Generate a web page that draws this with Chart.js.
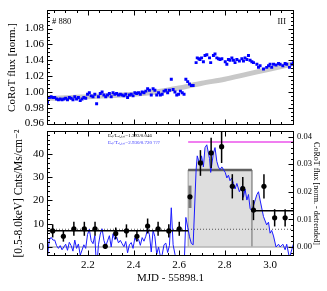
<!DOCTYPE html>
<html>
<head>
<meta charset="utf-8">
<script src="https://cdn.jsdelivr.net/npm/chart.js@4.4.0/dist/chart.umd.min.js"></script>
<style>
  body { margin: 0; background: #fff; }
  #wrap { position: relative; width: 327px; height: 291px; }
  canvas { position: absolute; left: 0; top: 0; }
</style>
</head>
<body>
<div id="wrap">
  <canvas id="bot" width="327" height="291"></canvas>
  <canvas id="top" width="327" height="135"></canvas>
</div>
<script>
// axis ranges / ticks
var xMin = 2.02, xMax = 3.105;
var xTicks = [2.2, 2.4, 2.6, 2.8, 3.0];
var fluxTicks = [0.96, 0.98, 1.00, 1.02, 1.04, 1.06, 1.08];
var rateTicks = [0, 10, 20, 30, 40];
var detrTicks = [0.00, 0.01, 0.02, 0.03, 0.04];

// CoRoT light curve (MJD - 55898.1)
var corotT = [
  2.022, 2.030, 2.038, 2.046, 2.054, 2.062, 2.070, 2.078, 2.086, 2.094,
  2.102, 2.110, 2.118, 2.126, 2.134, 2.142, 2.150, 2.158, 2.166, 2.174,
  2.182, 2.190, 2.198, 2.206, 2.214, 2.222, 2.230, 2.238, 2.246, 2.254,
  2.262, 2.270, 2.278, 2.286, 2.294, 2.302, 2.310, 2.318, 2.326, 2.334,
  2.342, 2.350, 2.358, 2.366, 2.374, 2.382, 2.390, 2.398, 2.406, 2.414,
  2.422, 2.430, 2.438, 2.446, 2.454, 2.462, 2.470, 2.478, 2.486, 2.494,
  2.502, 2.510, 2.518, 2.526, 2.534, 2.542, 2.550, 2.558, 2.566, 2.574,
  2.582, 2.590, 2.598, 2.606, 2.614, 2.622, 2.630, 2.638, 2.646, 2.654,
  2.662,
  2.675, 2.680, 2.687, 2.692, 2.699, 2.707, 2.714, 2.722, 2.734, 2.739,
  2.751, 2.758, 2.766, 2.773, 2.780, 2.788, 2.803, 2.810, 2.817, 2.824,
  2.832, 2.839, 2.846, 2.854, 2.865, 2.876, 2.883, 2.890, 2.898, 2.905,
  2.912, 2.920, 2.927, 2.942, 2.949, 2.956, 2.971, 2.985, 2.993, 3.000,
  3.007, 3.015, 3.026, 3.037, 3.044, 3.056, 3.066, 3.073, 3.085, 3.095,
  3.102
];
var corotFlux = [
  0.987, 0.993, 0.994, 0.993, 0.993, 0.991, 0.990, 0.991, 0.990, 0.991,
  0.992, 0.990, 0.993, 0.992, 0.990, 0.994, 0.991, 0.993, 0.989, 0.991,
  0.993, 0.992, 0.997, 0.999, 0.995, 0.994, 0.997, 0.985, 0.994, 0.998,
  1.000, 0.996, 0.994, 0.996, 0.998, 0.994, 0.999, 0.997, 0.998, 0.996,
  0.997, 0.996, 0.995, 0.997, 0.993, 0.996, 0.997, 0.995, 0.999, 0.998,
  0.999, 0.997, 1.000, 0.999, 1.001, 1.004, 1.002, 0.996, 1.004, 1.002,
  0.996, 0.999, 0.996, 0.997, 1.001, 1.002, 0.999, 1.002, 1.016, 1.003,
  1.000, 0.996, 0.997, 1.001, 0.999, 0.997, 1.016, 1.013, 1.010, 1.008,
  1.008,
  1.037, 1.043, 1.042, 1.041, 1.043, 1.038, 1.046, 1.047, 1.043, 1.037,
  1.046, 1.048, 1.043, 1.042, 1.041, 1.042, 1.038, 1.035, 1.041, 1.040,
  1.043, 1.040, 1.037, 1.041, 1.039, 1.042, 1.039, 1.043, 1.041, 1.046,
  1.040, 1.038, 1.037, 1.035, 1.031, 1.033, 1.029, 1.031, 1.033, 1.035,
  1.031, 1.035, 1.034, 1.036, 1.035, 1.033, 1.036, 1.035, 1.031, 1.035,
  1.037
];
var corotDetr = [
  -0.0035, 0.0025, 0.0035, 0.0025, 0.0025, 0.0005, -0.0005, 0.0005, -0.0010, 0.0000,
  0.0010, -0.0012, 0.0017, 0.0005, -0.0015, 0.0025, -0.0005, 0.0011, -0.0030, -0.0011,
  0.0008, -0.0005, 0.0045, 0.0064, 0.0023, 0.0012, 0.0041, -0.0081, 0.0008, 0.0047,
  0.0066, 0.0024, 0.0003, 0.0022, 0.0041, 0.0000, 0.0048, 0.0027, 0.0036, 0.0015,
  0.0024, 0.0012, 0.0001, 0.0020, -0.0021, 0.0008, 0.0016, -0.0005, 0.0033, 0.0021,
  0.0028, 0.0006, 0.0034, 0.0021, 0.0039, 0.0066, 0.0044, -0.0018, 0.0060, 0.0037,
  -0.0026, 0.0000, -0.0034, -0.0028, 0.0008, 0.0014, -0.0020, 0.0006, 0.0142, 0.0008,
  -0.0026, -0.0070, -0.0064, -0.0029, -0.0053, -0.0078, 0.0107, 0.0072, 0.0037, 0.0013,
  0.0008,
  0.028, 0.033, 0.031, 0.030, 0.033, 0.029, 0.036, 0.037, 0.032, 0.027,
  0.034, 0.036, 0.031, 0.029, 0.028, 0.029, 0.027, 0.025, 0.026, 0.024,
  0.025, 0.023, 0.021, 0.023, 0.020, 0.022, 0.018, 0.021, 0.017, 0.019,
  0.014, 0.013, 0.015, 0.019, 0.020, 0.017, 0.011, 0.008, 0.009, 0.005,
  0.006, 0.004, 0.000, 0.001, 0.000, 0.001, -0.001, 0.001, -0.004, -0.001,
  0.001
];
// smooth trend (grey)
var trendT = [2.02, 2.10, 2.20, 2.30, 2.40, 2.50, 2.60, 2.70, 2.80, 2.90, 3.00, 3.095];
var trendF = [0.992, 0.9925, 0.994, 0.9955, 0.997, 1.000, 1.005, 1.011, 1.016, 1.0225, 1.029, 1.035];

// X-ray light curve
var xrT = [2.045, 2.092, 2.138, 2.184, 2.231, 2.276, 2.322, 2.369, 2.415, 2.462, 2.508, 2.555,
           2.601, 2.648, 2.694, 2.741, 2.787, 2.834, 2.880, 2.927, 2.973, 3.020, 3.066];
var xrRate = [6.9, 4.6, 7.8, 7.8, 7.8, 0.3, 5.8, 6.9, 4.6, 9.0, 7.8, 6.9,
              7.8, 21.5, 36.0, 40.3, 43.0, 26.0, 25.0, 15.8, 26.0, 12.5, 12.5];
var xrErr = [2.8, 2.3, 3.0, 3.0, 3.0, 1.0, 2.5, 2.8, 2.3, 3.2, 3.0, 2.8,
             3.0, 4.8, 5.5, 6.5, 7.0, 5.2, 5.0, 4.3, 5.2, 3.7, 3.7];
var greyBin = 13;

// blocks
var blockT = [2.02, 2.64, 2.92, 3.105];
var blockRate = [7.0, 33.0, 15.5];
var quietRate = 7.6;
var peakDetr = 0.038;
var flareEnd = 3.026;

Chart.defaults.font.family = "'Liberation Serif', 'DejaVu Serif', serif";
Chart.defaults.color = '#000';

function pts(xs, ys) {
  return xs.map(function (x, i) { return { x: x, y: ys[i] }; });
}
function seg(x0, x1, y) { return [{ x: x0, y: y }, { x: x1, y: y }]; }

function frameTicks(cfg) {
  return {
    id: 'frameTicks',
    afterDatasetsDraw: function (chart) {
      var c = chart.ctx, a = chart.chartArea;
      var L = Math.round(a.left) + 0.5, R = Math.round(a.right) - 0.5;
      var T = Math.round(a.top) + 0.5, B = Math.round(a.bottom) - 0.5;
      c.save();
      c.strokeStyle = '#000';
      c.lineWidth = 1;
      c.strokeRect(L, T, R - L, B - T);
      function marks(scale, major, step, draw) {
        var k0 = Math.ceil(scale.min / step - 1e-9), k1 = Math.floor(scale.max / step + 1e-9);
        for (var k = k0; k <= k1; k++) {
          var v = k * step;
          var isMajor = major.some(function (m) { return Math.abs(m - v) < step / 10; });
          draw(Math.round(scale.getPixelForValue(v)) + 0.5, isMajor ? 5 : 2.5);
        }
      }
      c.beginPath();
      marks(chart.scales.x, cfg.x.major, cfg.x.step, function (p, len) {
        c.moveTo(p, B); c.lineTo(p, B - len);
        c.moveTo(p, T); c.lineTo(p, T + len);
      });
      marks(chart.scales[cfg.left.id], cfg.left.major, cfg.left.step, function (p, len) {
        c.moveTo(L, p); c.lineTo(L + len, p);
      });
      marks(chart.scales[cfg.right.id], cfg.right.major, cfg.right.step, function (p, len) {
        c.moveTo(R, p); c.lineTo(R - len, p);
      });
      c.stroke();
      c.restore();
    }
  };
}

function noteText(c, text, x, y, font, color, align) {
  c.save();
  c.font = font;
  c.fillStyle = color;
  c.textAlign = align;
  c.textBaseline = 'middle';
  c.fillText(text, x, y);
  c.restore();
}

// ---------- top panel ----------
new Chart(document.getElementById('top'), {
  type: 'line',
  data: {
    datasets: [
      {
        data: pts(corotT, corotFlux), showLine: false,
        pointStyle: 'rect', pointRadius: 2.1, pointBorderWidth: 0,
        pointBackgroundColor: '#0000ff', order: 0
      },
      {
        data: pts(trendT, trendF), borderColor: '#c8c8c8', borderWidth: 5,
        pointRadius: 0, cubicInterpolationMode: 'monotone', fill: false, order: 1
      }
    ]
  },
  options: {
    responsive: false, animation: false, devicePixelRatio: 1,
    layout: { padding: { left: 0, right: 33, top: 3, bottom: 4 } },
    scales: {
      x: { type: 'linear', display: false, min: xMin, max: xMax },
      y: {
        min: 0.9577, max: 1.104,
        afterFit: function (s) { s.width = 47; },
        afterBuildTicks: function (s) { s.ticks = fluxTicks.map(function (v) { return { value: v }; }); },
        ticks: { padding: 3, font: { size: 11 }, color: '#000', callback: function (v) { return v.toFixed(2); } },
        grid: { display: false, drawTicks: false },
        border: { display: false },
        title: { display: true, text: 'CoRoT flux [norm.]', font: { size: 11 }, color: '#000', padding: { top: 6, bottom: 0 } }
      }
    },
    plugins: { legend: { display: false }, tooltip: { enabled: false } }
  },
  plugins: [
    frameTicks({
      x: { major: xTicks, step: 0.05 },
      left: { id: 'y', major: fluxTicks, step: 0.005 },
      right: { id: 'y', major: fluxTicks, step: 0.005 }
    }),
    {
      id: 'notesTop',
      afterDraw: function (chart) {
        var a = chart.chartArea;
        noteText(chart.ctx, '# 880', a.left + 5, a.top + 12, "8.5px 'Liberation Serif'", '#000', 'left');
        noteText(chart.ctx, 'III', a.right - 8, a.top + 12, "8.5px 'Liberation Serif'", '#000', 'right');
      }
    }
  ]
});

// ---------- bottom panel ----------
var fillT = [], fillD = [];
corotT.forEach(function (t, i) {
  if (t >= blockT[1] && t <= flareEnd) { fillT.push(t); fillD.push(corotDetr[i]); }
});

var errBars = {
  id: 'errBars',
  beforeDatasetDraw: function (chart, args) {
    if (args.index !== 10) return;
    var c = chart.ctx, a = chart.chartArea, xs = chart.scales.x, ys = chart.scales.y;
    c.save();
    c.beginPath();
    c.rect(a.left, a.top, a.right - a.left, a.bottom - a.top);
    c.clip();
    for (var i = 0; i < xrT.length; i++) {
      var px = xs.getPixelForValue(xrT[i]);
      c.strokeStyle = i === greyBin ? '#7a7a7a' : '#000';
      c.lineWidth = i === greyBin ? 3 : 1.5;
      c.beginPath();
      c.moveTo(px, ys.getPixelForValue(xrRate[i] - xrErr[i]));
      c.lineTo(px, ys.getPixelForValue(xrRate[i] + xrErr[i]));
      c.stroke();
    }
    c.restore();
  }
};

new Chart(document.getElementById('bot'), {
  type: 'line',
  data: {
    datasets: [
      { // 0 grey area under flare curve
        data: pts(fillT, fillD), yAxisID: 'yR', fill: 'origin',
        backgroundColor: '#dedede', borderColor: 'rgba(0,0,0,0)', borderWidth: 0,
        pointRadius: 0, order: 10
      },
      { // 1 block box
        data: [{ x: blockT[1], y: 0 }, { x: blockT[1], y: blockRate[1] },
               { x: blockT[2], y: blockRate[1] }, { x: blockT[2], y: 0 }],
        yAxisID: 'y', fill: 'origin', backgroundColor: '#dedede',
        borderColor: '#9a9a9a', borderWidth: 1, pointRadius: 0, order: 9
      },
      { // 2 zero line
        data: seg(xMin, xMax, 0), yAxisID: 'y', borderColor: '#b4b4b4',
        borderWidth: 1.5, pointRadius: 0, fill: false, order: 8
      },
      { // 3 quiescent level
        data: seg(xMin, xMax, quietRate), yAxisID: 'y', borderColor: '#555',
        borderWidth: 1, borderDash: [1, 2], pointRadius: 0, fill: false, order: 7
      },
      { // 4 box top
        data: seg(blockT[1], blockT[2], blockRate[1]), yAxisID: 'y',
        borderColor: '#606060', borderWidth: 2.5, pointRadius: 0, fill: false, order: 6
      },
      { // 5 detrended CoRoT
        data: pts(corotT, corotDetr), yAxisID: 'yR', borderColor: '#1a1aff',
        borderWidth: 1, pointRadius: 0, fill: false, order: 5
      },
      { // 6 peak optical level
        data: seg(blockT[1], xMax, peakDetr), yAxisID: 'yR', borderColor: '#f07ef0',
        borderWidth: 2, pointRadius: 0, fill: false, order: 4
      },
      { // 7 block before
        data: seg(blockT[0], blockT[1], blockRate[0]), yAxisID: 'y', borderColor: '#000',
        borderWidth: 1.5, pointRadius: 0, fill: false, order: 3
      },
      { // 8 block after
        data: seg(blockT[2], blockT[3], blockRate[2]), yAxisID: 'y', borderColor: '#000',
        borderWidth: 1.5, pointRadius: 0, fill: false, order: 3
      },
      { // 9 spacer (keeps indices)
        data: [], yAxisID: 'y', order: 2
      },
      { // 10 X-ray rates
        data: pts(xrT, xrRate), yAxisID: 'y', showLine: false,
        pointRadius: 2.6, pointBackgroundColor: '#000', pointBorderWidth: 0, order: 0
      }
    ]
  },
  options: {
    responsive: false, animation: false, devicePixelRatio: 1,
    layout: { padding: { left: 0, right: 0, top: 131, bottom: 0 } },
    scales: {
      x: {
        type: 'linear', min: xMin, max: xMax,
        afterFit: function (s) { s.height = 35; },
        afterBuildTicks: function (s) { s.ticks = xTicks.map(function (v) { return { value: v }; }); },
        ticks: { padding: 3, font: { size: 11 }, color: '#000', maxRotation: 0,
                 callback: function (v) { return v.toFixed(1); } },
        grid: { display: false, drawTicks: false },
        border: { display: false },
        title: { display: true, text: 'MJD - 55898.1', font: { size: 11 }, color: '#000', padding: { top: 0, bottom: 6 } }
      },
      y: {
        position: 'left', min: -3.86, max: 49.7,
        afterFit: function (s) { s.width = 47; },
        afterBuildTicks: function (s) { s.ticks = rateTicks.map(function (v) { return { value: v }; }); },
        ticks: { padding: 3, font: { size: 11 }, color: '#000' },
        grid: { display: false, drawTicks: false },
        border: { display: false },
        title: { display: true, text: '[0.5-8.0keV] Cnts/Ms/cm\u207B\u00B2', font: { size: 11.5 }, color: '#000', padding: { top: 12, bottom: 0 } }
      },
      yR: {
        position: 'right', min: -0.00326, max: 0.042,
        afterFit: function (s) { s.width = 33; },
        afterBuildTicks: function (s) { s.ticks = detrTicks.map(function (v) { return { value: v }; }); },
        ticks: { padding: 3, font: { size: 8.5 }, color: '#000', callback: function (v) { return v.toFixed(2); } },
        grid: { display: false, drawTicks: false },
        border: { display: false },
        title: { display: true, text: 'CoRoT flux [norm. - detrended]', font: { size: 8 }, color: '#000', padding: { top: 6, bottom: 0 } }
      }
    },
    plugins: { legend: { display: false }, tooltip: { enabled: false } }
  },
  plugins: [
    errBars,
    frameTicks({
      x: { major: xTicks, step: 0.05 },
      left: { id: 'y', major: rateTicks, step: 2 },
      right: { id: 'yR', major: detrTicks, step: 0.002 }
    }),
    {
      id: 'notesBot',
      afterDraw: function (chart) {
        var a = chart.chartArea;
        noteText(chart.ctx, 'E\u2091\u2097/L\u2091\u2097,\u209B\u2099=1.393/0.046', a.left + 61, a.top + 5, "5px 'Liberation Serif'", '#000', 'left');
        noteText(chart.ctx, 'E\u2091\u2097/T\u2091\u2097,\u209B\u2099=2.930/0.720 ???', a.left + 61, a.top + 11.5, "5px 'Liberation Serif'", '#3030ff', 'left');
      }
    }
  ]
});
</script>
</body>
</html>
